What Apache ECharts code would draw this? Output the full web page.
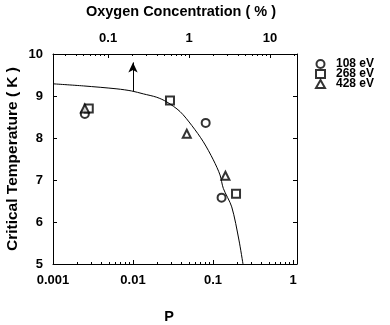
<!DOCTYPE html>
<html>
<head>
<meta charset="utf-8">
<script src="https://cdn.jsdelivr.net/npm/echarts@6/dist/echarts.min.js"></script>
<style>
  html, body { margin: 0; padding: 0; background: #fff; }
  #chart { width: 390px; height: 325px; }
</style>
</head>
<body>
<div id="chart"></div>
<script>
// Bottom axis: P (log scale)
const pMajorTicks = [0.001, 0.01, 0.1, 1];
const pTickLabels = ['0.001', '0.01', '0.1', '1'];
const pMinorTicks = [0.002, 0.003, 0.004, 0.005, 0.006, 0.007, 0.008, 0.009,
                     0.02, 0.03, 0.04, 0.05, 0.06, 0.07, 0.08, 0.09,
                     0.2, 0.3, 0.4, 0.5, 0.6, 0.7, 0.8, 0.9];

// Top axis: oxygen concentration in percent (log scale)
const oxMajorTicks = [0.1, 1, 10];
const oxTickLabels = ['0.1', '1', '10'];
const oxMinorTicks = [0.03, 0.04, 0.05, 0.06, 0.07, 0.08, 0.09,
                      0.2, 0.3, 0.4, 0.5, 0.6, 0.7, 0.8, 0.9,
                      2, 3, 4, 5, 6, 7, 8, 9, 20];

// Measured points per beam energy
const seriesNames = ['108 eV', '268 eV', '428 eV'];
const p108 = [0.0025, 0.081, 0.128];
const t108 = [8.57, 8.36, 6.58];
const p268 = [0.0028, 0.029, 0.194];
const t268 = [8.70, 8.89, 6.67];
const p428 = [0.0025, 0.047, 0.143];
const t428 = [8.70, 8.10, 7.10];

// Model curve Tc(P)
const curveP = [0.001, 0.0024, 0.0063, 0.0096, 0.0135, 0.0198, 0.0264, 0.0387,
                0.0542, 0.0757, 0.1009, 0.1224, 0.1346, 0.1714, 0.211, 0.237];
const curveT = [9.29, 9.24, 9.17, 9.12, 9.05, 8.97, 8.86, 8.63,
                8.30, 7.91, 7.48, 7.12, 6.80, 6.36, 5.57, 5.0];

// Lower-bound arrow
const arrowP = 0.01;
const arrowFrom = 9.12;
const arrowTo = 9.8;

const FONT = 'Liberation Sans';
const pair = (xs, ys) => xs.map((x, i) => [x, ys[i]]);
const labelFor = (ticks, labels) => v => {
  const i = ticks.findIndex(m => Math.abs(Math.log10(m) - Math.log10(v)) < 0.01);
  return i >= 0 ? labels[i] : '';
};
const tickText = { fontFamily: FONT, fontWeight: 'bold', fontSize: 13, color: '#000' };
const nameText = { fontFamily: FONT, fontWeight: 'bold', fontSize: 14.5, color: '#000' };
const tickLine = { color: '#000', width: 1 };

const logAxisBase = {
  type: 'log',
  logBase: 10,
  splitLine: { show: false },
  axisLine: { show: true, lineStyle: { color: '#000', width: 1 } }
};

const option = {
  animation: false,
  backgroundColor: '#fff',
  textStyle: { fontFamily: FONT },
  grid: { left: 53, right: 93, top: 54, bottom: 61, containLabel: false, outerBoundsMode: 'none' },
  legend: {
    orient: 'vertical',
    left: 315,
    top: 58,
    padding: 0,
    itemWidth: 9,
    itemHeight: 8,
    itemGap: -2,
    textStyle: { fontFamily: FONT, fontWeight: 'bold', fontSize: 12, lineHeight: 12, color: '#000', padding: [0, 0, 0, 6] },
    data: seriesNames
  },
  xAxis: [
    Object.assign({}, logAxisBase, {
      position: 'bottom', min: 0.001, max: 1.122,
      name: 'P', nameLocation: 'middle', nameGap: 45,
      nameTextStyle: Object.assign({}, nameText, { padding: [0, 12, 0, 0] }),
      axisTick: { show: true, inside: true, length: 4, lineStyle: tickLine, customValues: pMajorTicks },
      axisLabel: Object.assign({}, tickText, { margin: 10, customValues: pMajorTicks, formatter: labelFor(pMajorTicks, pTickLabels) })
    }),
    Object.assign({}, logAxisBase, {
      position: 'bottom', min: 0.001, max: 1.122,
      axisLine: { show: false },
      axisTick: { show: true, inside: true, length: 2, lineStyle: tickLine, customValues: pMinorTicks },
      axisLabel: { show: false }
    }),
    Object.assign({}, logAxisBase, {
      position: 'top', min: 0.0209, max: 21.5,
      name: 'Oxygen Concentration ( % )', nameLocation: 'middle', nameGap: 35,
      nameTextStyle: Object.assign({}, nameText, { padding: [0, 0, 0, 12] }),
      axisTick: { show: true, inside: true, length: 4, lineStyle: tickLine, customValues: oxMajorTicks },
      axisLabel: Object.assign({}, tickText, { margin: 9, customValues: oxMajorTicks, formatter: labelFor(oxMajorTicks, oxTickLabels) })
    }),
    Object.assign({}, logAxisBase, {
      position: 'top', min: 0.0209, max: 21.5,
      axisLine: { show: false },
      axisTick: { show: true, inside: true, length: 2, lineStyle: tickLine, customValues: oxMinorTicks },
      axisLabel: { show: false }
    })
  ],
  yAxis: [
    {
      type: 'value', position: 'left', min: 5, max: 10, interval: 1,
      name: 'Critical Temperature ( K )', nameLocation: 'middle', nameGap: 32, nameMoveOverlap: false,
      nameTextStyle: Object.assign({}, nameText, { fontSize: 15.5 }),
      splitLine: { show: false },
      axisLine: { show: true, lineStyle: { color: '#000' } },
      axisTick: { show: true, inside: true, length: 4, lineStyle: tickLine },
      axisLabel: Object.assign({}, tickText, { margin: 10 })
    },
    {
      type: 'value', position: 'right', min: 5, max: 10, interval: 1,
      splitLine: { show: false },
      axisLine: { show: true, lineStyle: { color: '#000' } },
      axisTick: { show: true, inside: true, length: 4, lineStyle: tickLine },
      axisLabel: { show: false }
    }
  ],
  series: [
    {
      name: 'curve', type: 'line', xAxisIndex: 0, yAxisIndex: 0,
      data: pair(curveP, curveT), smooth: 0.3, showSymbol: false, silent: true,
      lineStyle: { color: '#000', width: 1 },
      markLine: {
        silent: true, symbol: ['none', 'arrow'], symbolSize: [7, 10],
        label: { show: false },
        lineStyle: { color: '#000', width: 1, type: 'solid' },
        data: [[{ coord: [arrowP, arrowFrom] }, { coord: [arrowP, arrowTo] }]]
      }
    },
    {
      name: seriesNames[0], type: 'scatter', xAxisIndex: 0, yAxisIndex: 0,
      data: pair(p108, t108), symbol: 'emptyCircle', symbolSize: 8,
      itemStyle: { color: '#000', borderWidth: 1 }
    },
    {
      name: seriesNames[1], type: 'scatter', xAxisIndex: 0, yAxisIndex: 0,
      data: pair(p268, t268), symbol: 'emptyRect', symbolSize: 8,
      itemStyle: { color: '#000', borderWidth: 1 }
    },
    {
      name: seriesNames[2], type: 'scatter', xAxisIndex: 0, yAxisIndex: 0,
      data: pair(p428, t428), symbol: 'emptyTriangle', symbolSize: 8,
      itemStyle: { color: '#000', borderWidth: 1 }
    }
  ]
};

echarts.init(document.getElementById('chart'), null, { renderer: 'canvas' }).setOption(option);
</script>
</body>
</html>
